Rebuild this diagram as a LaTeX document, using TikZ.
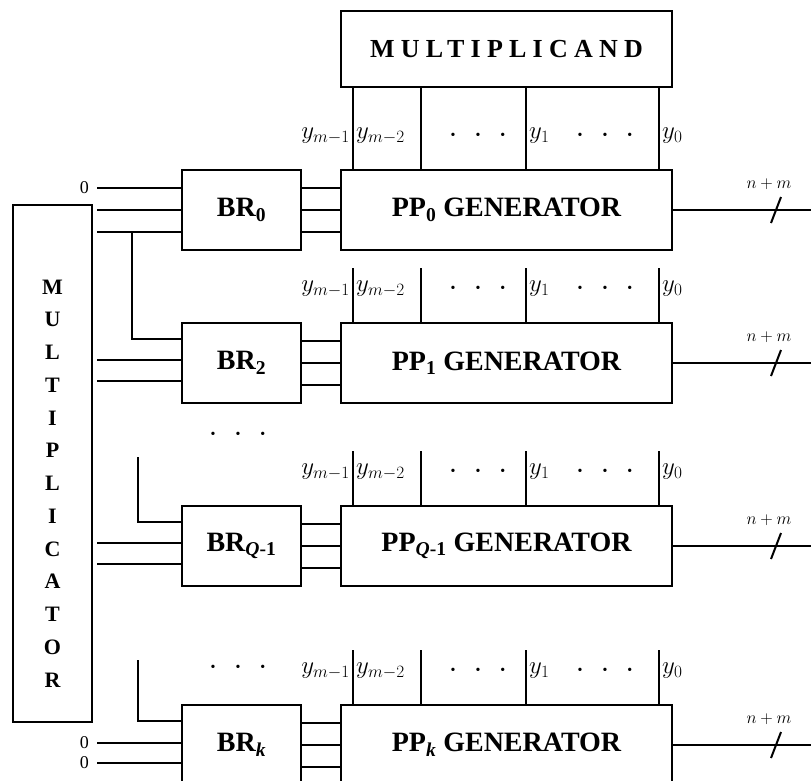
\documentclass[tikz,border=0pt]{standalone}
\usepackage{fontspec}
\setmainfont{Liberation Serif}
\usetikzlibrary{positioning,calc}

\tikzset{
  blk/.style={draw, line width=2pt, inner sep=0pt},
  ppgen/.style={blk, minimum width=331pt, minimum height=80pt, font=\bfseries\fontsize{28}{30}\selectfont},
  brec/.style={blk, minimum width=119pt, minimum height=80pt, font=\bfseries\fontsize{28}{30}\selectfont},
  wire/.style={line width=2.5pt},
  bit/.style={font=\fontsize{24}{26}\selectfont, inner sep=1pt},
  zero/.style={font=\fontsize{18}{20}\selectfont, inner sep=1pt, anchor=east, xshift=-6pt},
  buswidth/.style={font=\fontsize{18}{20}\selectfont, inner sep=0pt},
}
\newcommand{\spdots}{{\fontsize{14}{14}\selectfont\textbullet\hspace{20pt}\textbullet\hspace{20pt}\textbullet}}

\begin{document}
\begin{tikzpicture}[x=1pt, y=-1pt]
  \useasboundingbox (0,0) rectangle (811,780);
  \clip (0,0) rectangle (811,780);

  % partial product generators
  \node[ppgen] (pp0) at (506.5,210) {PP\textsubscript{0} GENERATOR};
  \node[ppgen] (pp1) at (506.5,363) {PP\textsubscript{1} GENERATOR};
  \node[ppgen] (pp2) at (506.5,546) {PP\textsubscript{\textit{Q}-1} GENERATOR};
  \node[ppgen] (pp3) at (506.5,745) {PP\textsubscript{\textit{k}} GENERATOR};

  % booth recoders
  \node[brec, left=38pt of pp0] (br0) {BR\textsubscript{0}};
  \node[brec, left=38pt of pp1] (br1) {BR\textsubscript{2}};
  \node[brec, left=38pt of pp2] (br2) {BR\textsubscript{\textit{Q}-1}};
  \node[brec, left=38pt of pp3] (br3) {BR\textsubscript{\textit{k}}};

  % operands
  \node[blk, minimum width=331pt, minimum height=76pt, above=81pt of pp0,
        font=\bfseries\fontsize{26}{28}\selectfont] (mcand) {\addfontfeatures{LetterSpace=24}MULTIPLICAND};
  \node[blk, minimum width=79pt, minimum height=517pt] (mplr) at (52.5,463.5) {};
  \node[font=\bfseries\fontsize{22}{32.75}\selectfont, align=center] (mplrtxt) at (52.5,483.5)
    {M\\U\\L\\T\\I\\P\\L\\I\\C\\A\\T\\O\\R};

  % multiplicand bits
  \foreach \dx in {13,81,186,319}
    \draw[wire] ($(mcand.south west)+(\dx,0)$) -- ($(pp0.north west)+(\dx,0)$);
  \foreach \g in {pp1,pp2,pp3}
    \foreach \dx in {13,81,186,319}
      \draw[wire] ($(\g.north west)+(\dx,-54)$) -- ($(\g.north west)+(\dx,0)$);

  \foreach \g in {pp0,pp1,pp2,pp3} {
    \node[bit, anchor=east] (\g m1) at ($(\g.north west)+(11,-33)$) {$y_{m-1}$};
    \node[bit, anchor=west] (\g m2) at ($(\g.north west)+(15,-33)$) {$y_{m-2}$};
    \node (\g da) at ($(\g.north west)+(138,-33)$) {\spdots};
    \node[bit, anchor=west] (\g y1) at ($(\g.north west)+(188,-33)$) {$y_1$};
    \node (\g db) at ($(\g.north west)+(265,-33)$) {\spdots};
    \node[bit, anchor=west] (\g y0) at ($(\g.north west)+(321,-33)$) {$y_0$};
  }
  \node (gapdots) at (238,435) {\spdots};
  \node (lastdots) at (238,668) {\spdots};

  % recoder to generator
  \foreach \b/\g in {br0/pp0,br1/pp1,br2/pp2,br3/pp3}
    \foreach \dy in {-22,0,22}
      \draw[wire] ($(\b.east)+(0,\dy)$) -- ($(\g.west)+(0,\dy)$);

  % multiplicator bits
  \draw[wire] ($(br0.west)+(0,-22)$) -- ++(-84,0) node[zero] (z0) {0};
  \draw[wire] (br0.west) -- ++(-84,0);
  \draw[wire] ($(br0.west)+(0,22)$) -- ++(-84,0);
  \draw[wire] ($(br0.west)+(-49,22)$) |- ($(br1.west)+(0,-24)$);
  \draw[wire] ($(br2.west)+(-43,-89)$) |- ($(br2.west)+(0,-24)$);
  \draw[wire] ($(br3.west)+(-43,-85)$) |- ($(br3.west)+(0,-24)$);
  \foreach \b in {br1,br2}
    \foreach \dy in {-3,18}
      \draw[wire] ($(\b.west)+(0,\dy)$) -- ++(-84,0);
  \draw[wire] ($(br3.west)+(0,-2)$) -- ++(-84,0) node[zero] (z1) {0};
  \draw[wire] ($(br3.west)+(0,18)$) -- ++(-84,0) node[zero] (z2) {0};

  % outputs
  \coordinate (rim) at (811,0);
  \foreach \g in {pp0,pp1,pp2,pp3} {
    \draw[wire] (\g.east) -- (\g.east -| rim);
    \draw[line width=2pt] ($(\g.east)+(98,13)$) -- ++(10,-26);
    \node[buswidth] (\g n) at ($(\g.east)+(96,-26)$) {$n+m$};
  }
\end{tikzpicture}
\end{document}
